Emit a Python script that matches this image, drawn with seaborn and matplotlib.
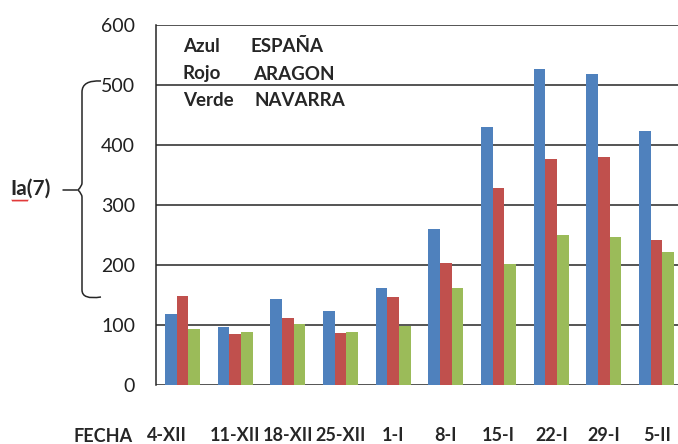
import pandas as pd
import numpy as np
import seaborn as sns
import matplotlib
matplotlib.use('Agg')
import matplotlib.pyplot as plt
import matplotlib.transforms as mtransforms
from matplotlib.path import Path
from matplotlib.patches import PathPatch

# weekly values
fechas = ["4-XII", "11-XII", "18-XII", "25-XII", "1-I", "8-I", "15-I", "22-I", "29-I", "5-II"]
espana = [119, 97, 143, 123, 161, 260, 430, 526, 519, 423]
aragon = [148, 85, 112, 87, 146, 204, 328, 377, 380, 242]
navarra = [94, 89, 102, 89, 98, 161, 202, 250, 247, 222]
regiones = ["ESPAÑA", "ARAGON", "NAVARRA"]
colores = ["#4F81BD", "#C0504D", "#9BBB59"]
yticks = [0, 100, 200, 300, 400, 500, 600]

df = pd.DataFrame({"FECHA": fechas, "ESPAÑA": espana, "ARAGON": aragon, "NAVARRA": navarra})
df = df.melt(id_vars="FECHA", var_name="Region", value_name="Ia7")

sns.set_style("white")
plt.rcParams['font.family'] = ['Lato', 'DejaVu Sans']

fig = plt.figure(figsize=(6.78, 4.44), dpi=100)
ax = fig.add_axes([156 / 678, 59 / 444, 527 / 678, 360 / 444])

sns.barplot(data=df, x="FECHA", y="Ia7", hue="Region", hue_order=regiones,
            palette=colores, saturation=1, width=0.665, linewidth=0,
            legend=False, ax=ax)

ax.set_xlim(-0.5, len(fechas) - 0.5)
ax.set_ylim(0, 600)
ax.set_yticks(yticks)
ax.set_xlabel("")
ax.set_ylabel("")
ax.grid(axis="y", color="#262626", linewidth=1.1)
ax.set_axisbelow(True)
for s in ["top", "right", "bottom"]:
    ax.spines[s].set_visible(False)
ax.spines["left"].set_color("#262626")
ax.spines["left"].set_linewidth(1.1)
ax.tick_params(axis="y", length=6, width=1.1, color="#262626", pad=9,
               labelsize=14, labelcolor="#202020")
ax.tick_params(axis="x", length=0, pad=30, labelsize=13)
for lab in ax.get_xticklabels():
    lab.set_fontweight("bold")
# the first date label sits a bit left of its group in the original
first = ax.get_xticklabels()[0]
first.set_transform(first.get_transform() +
                    mtransforms.ScaledTranslation(-15 / 100, 0, fig.dpi_scale_trans))

# legend written as plain text inside the plot
leyenda = [("Azul", "ESPAÑA", 250), ("Rojo", "ARAGON", 253), ("Verde", "NAVARRA", 255)]
for i, (c, r, xr) in enumerate(leyenda):
    y = 47 + i * 27
    fig.text(183 / 678, 1 - y / 444, c, fontsize=13.5, fontweight="bold", va="center")
    fig.text(xr / 678, 1 - y / 444, r, fontsize=13.5, fontweight="bold", va="center")

fig.text(103 / 678, 1 - 436 / 444, "FECHA", fontsize=13, fontweight="bold",
         ha="center", va="center")

# brace + Ia(7) label in pixel coords
ov = fig.add_axes([0, 0, 1, 1])
ov.set_xlim(0, 678)
ov.set_ylim(444, 0)
ov.axis("off")
ov.patch.set_alpha(0)
verts = [(101, 81), (82, 80), (82, 92), (82, 183), (82, 186), (78, 190),
         (82, 194), (82, 197), (82, 290), (82, 300), (101, 297)]
codes = [Path.MOVETO, Path.CURVE3, Path.CURVE3, Path.LINETO, Path.CURVE3, Path.CURVE3,
         Path.CURVE3, Path.CURVE3, Path.LINETO, Path.CURVE3, Path.CURVE3]
ov.add_patch(PathPatch(Path(verts, codes), facecolor="none", edgecolor="#262626", lw=1.1))
ov.plot([63, 77], [190, 190], color="#262626", lw=1.1)
ov.text(10, 189, "Ia(7)", fontsize=15, fontweight="bold", va="center", ha="left")
wx = np.linspace(12, 28, 17)
ov.plot(wx, 200 + 1.2 * (np.arange(17) % 2), color="#E03030", lw=0.8)

fig.savefig("out.png", dpi=100)
